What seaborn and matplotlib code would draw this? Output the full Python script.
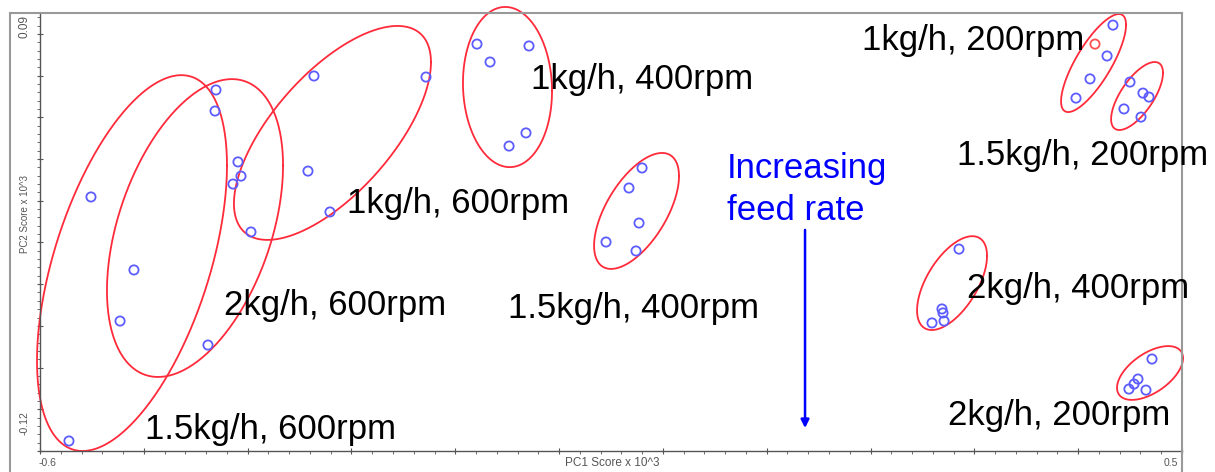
import numpy as np
import pandas as pd
import matplotlib
matplotlib.use("Agg")
import matplotlib.pyplot as plt
from matplotlib.lines import Line2D
from matplotlib.ticker import MultipleLocator
import seaborn as sns

# ---------------- data ----------------
groups = ["1kg/h, 600rpm", "2kg/h, 600rpm", "1.5kg/h, 600rpm",
          "1kg/h, 400rpm", "1.5kg/h, 400rpm", "2kg/h, 400rpm",
          "1kg/h, 200rpm", "1.5kg/h, 200rpm", "2kg/h, 200rpm"]

pc1_1kg_600 = [-0.3361, -0.2282, -0.3419, -0.3207, -0.3968]
pc2_1kg_600 = [0.0598, 0.0593, 0.0142, -0.0054, -0.0150]
pc1_2kg_600 = [-0.4305, -0.4314, -0.5095, -0.5229, -0.4382]
pc2_2kg_600 = [0.0531, 0.0430, -0.0332, -0.0577, -0.0692]
pc1_15kg_600 = [-0.5509, -0.5721, -0.4093, -0.4064, -0.4141]
pc2_15kg_600 = [0.0018, -0.1152, 0.0186, 0.0118, 0.0080]
pc1_1kg_400 = [-0.1791, -0.1290, -0.1665, -0.1319, -0.1482]
pc2_1kg_400 = [0.0751, 0.0742, 0.0665, 0.0325, 0.0262]
pc1_15kg_400 = [-0.0201, -0.0327, -0.0230, -0.0548, -0.0259]
pc2_15kg_400 = [0.0157, 0.0061, -0.0107, -0.0198, -0.0241]
pc1_2kg_400 = [0.2852, 0.2688, 0.2698, 0.2708, 0.2592]
pc2_2kg_400 = [-0.0232, -0.0519, -0.0538, -0.0577, -0.0586]
pc1_1kg_200 = [0.4335, 0.4162, 0.4278, 0.4114, 0.3979]
pc2_1kg_200 = [0.0842, 0.0751, 0.0694, 0.0584, 0.0492]
pc1_15kg_200 = [0.4499, 0.4624, 0.4682, 0.4441, 0.4605]
pc2_15kg_200 = [0.0569, 0.0516, 0.0497, 0.0440, 0.0401]
pc1_2kg_200 = [0.4711, 0.4576, 0.4538, 0.4489, 0.4653]
pc2_2kg_200 = [-0.0759, -0.0855, -0.0879, -0.0903, -0.0908]

# one highlighted (red) sample: group "1kg/h, 200rpm", sample index 1
highlight_group = "1kg/h, 200rpm"
highlight_index = 1

# confidence ellipses (centre, half-extent along PC1/PC2, correlation)
ell_cx = [-0.3183, -0.4507, -0.5114, -0.1497, -0.0254, 0.2785, 0.4148, 0.4567, 0.4692]
ell_cy = [0.0325, -0.0131, -0.0299, 0.0545, -0.0049, -0.0395, 0.0660, 0.0502, -0.0826]
ell_sx = [0.0949, 0.0848, 0.0915, 0.0429, 0.0409, 0.0337, 0.0313, 0.0250, 0.0318]
ell_sy = [0.0513, 0.0714, 0.0901, 0.0384, 0.0278, 0.0225, 0.0235, 0.0163, 0.0129]
ell_rho = [0.66, 0.42, 0.52, -0.05, 0.60, 0.58, 0.78, 0.68, 0.55]

# label anchor positions (left, baseline) in score units
label_x = [-0.3043, -0.4228, -0.4989, -0.1271, -0.1492, 0.2929, 0.1918, 0.2833, 0.2746]
label_y = [-0.0059, -0.0548, -0.1142, 0.0536, -0.0562, -0.0466, 0.0723, 0.0171, -0.1075]

annot_lines = ["Increasing", "feed rate"]
annot_x = 0.0617
annot_y = [0.0109, -0.0093]
arrow_x = 0.1369
arrow_y = [-0.0140, -0.1090]

xlim = (-0.6, 0.5)
ylim = (-0.12, 0.09)
xtick_labels = ["-0.6", "0.5"]
ytick_labels = ["0.09", "-0.12"]

# ---------------- build table ----------------
pc1_all = [pc1_1kg_600, pc1_2kg_600, pc1_15kg_600, pc1_1kg_400, pc1_15kg_400,
           pc1_2kg_400, pc1_1kg_200, pc1_15kg_200, pc1_2kg_200]
pc2_all = [pc2_1kg_600, pc2_2kg_600, pc2_15kg_600, pc2_1kg_400, pc2_15kg_400,
           pc2_2kg_400, pc2_1kg_200, pc2_15kg_200, pc2_2kg_200]
rows = []
for g, xs, ys in zip(groups, pc1_all, pc2_all):
    for i, (x, y) in enumerate(zip(xs, ys)):
        rows.append({"group": g, "pc1": x, "pc2": y,
                     "hl": (g == highlight_group and i == highlight_index)})
df = pd.DataFrame(rows)

# ---------------- figure ----------------
sns.set_style("white")
plt.rcParams["font.family"] = ["Liberation Sans", "DejaVu Sans"]

W, H = 1215, 472
fig = plt.figure(figsize=(W / 100, H / 100), dpi=100)
ax = fig.add_axes([40 / W, 21 / H, 1142 / W, 438 / H])

blue = "#5c5cff"
red = "#ff5050"
ell_color = "#ff2a3a"

sns.scatterplot(data=df[~df["hl"]], x="pc1", y="pc2", ax=ax, marker="o", s=44,
                color=blue, facecolor="none", edgecolor=blue, linewidth=1.3,
                legend=False, zorder=3, clip_on=False)
sns.scatterplot(data=df[df["hl"]], x="pc1", y="pc2", ax=ax, marker="o", s=44,
                color=red, facecolor="none", edgecolor=red, linewidth=1.3,
                legend=False, zorder=3, clip_on=False)

t = np.linspace(0, 2 * np.pi, 361)
for cx, cy, sx, sy, rho in zip(ell_cx, ell_cy, ell_sx, ell_sy, ell_rho):
    phi = np.arccos(rho)
    ax.plot(cx + sx * np.cos(t), cy + sy * np.cos(t - phi),
            color=ell_color, lw=1.3, clip_on=False, zorder=2)

for g, lx, ly in zip(groups, label_x, label_y):
    ax.text(lx, ly, g, fontsize=25, color="black", ha="left", va="baseline",
            zorder=4)

for line, ay in zip(annot_lines, annot_y):
    ax.text(annot_x, ay, line, fontsize=25, color="#0000ff", ha="left",
            va="baseline", zorder=4)
ax.annotate("", xy=(arrow_x, arrow_y[1]), xytext=(arrow_x, arrow_y[0]),
            arrowprops=dict(arrowstyle="-|>", color="#0000ff", lw=1.8,
                            mutation_scale=12, shrinkA=0, shrinkB=0))

ax.set_xlim(*xlim)
ax.set_ylim(*ylim)
ax.set_xlabel("")
ax.set_ylabel("")

ax.xaxis.set_major_locator(MultipleLocator(0.1))
ax.xaxis.set_minor_locator(MultipleLocator(0.02))
ax.yaxis.set_major_locator(MultipleLocator(0.02))
ax.yaxis.set_minor_locator(MultipleLocator(0.004))
ax.tick_params(which="major", direction="inout", length=5, width=0.8,
               color="#555555", labelleft=False, labelbottom=False,
               left=True, bottom=True)
ax.tick_params(which="minor", direction="out", length=2.5, width=0.6,
               color="#555555", left=True, bottom=True)

for side in ["left", "bottom"]:
    ax.spines[side].set_color("#555555")
    ax.spines[side].set_linewidth(1.0)
for side in ["top", "right"]:
    ax.spines[side].set_color("#999999")
    ax.spines[side].set_linewidth(1.5)

# outer frame pieces
frame_c = "#999999"
fig.add_artist(Line2D([10 / W, 10 / W], [0, 1 - 13 / H], color=frame_c, lw=1.5))
fig.add_artist(Line2D([10 / W, 40 / W], [1 - 13 / H, 1 - 13 / H], color=frame_c, lw=1.5))
fig.add_artist(Line2D([1182 / W, 1182 / W], [0, 21 / H], color=frame_c, lw=1.5))

# end tick labels and axis titles
lab_c = "#555555"
fig.text(25 / W, 1 - 26 / H, ytick_labels[0], rotation=90, fontsize=8.5,
         color=lab_c, ha="center", va="center")
fig.text(25 / W, 1 - 423 / H, ytick_labels[1], rotation=90, fontsize=7.5,
         color=lab_c, ha="center", va="center")
fig.text(47 / W, 1 - 463 / H, xtick_labels[0], fontsize=7.5, color=lab_c,
         ha="center", va="center")
fig.text(1171 / W, 1 - 463 / H, xtick_labels[1], fontsize=7.5, color=lab_c,
         ha="center", va="center")
fig.text(612 / W, 1 - 463 / H, "PC1 Score x 10^3", fontsize=8.5, color=lab_c,
         ha="center", va="center")
fig.text(25 / W, 1 - 214 / H, "PC2 Score x 10^3", rotation=90, fontsize=7,
         color=lab_c, ha="center", va="center")

fig.savefig("out.png", dpi=100)
